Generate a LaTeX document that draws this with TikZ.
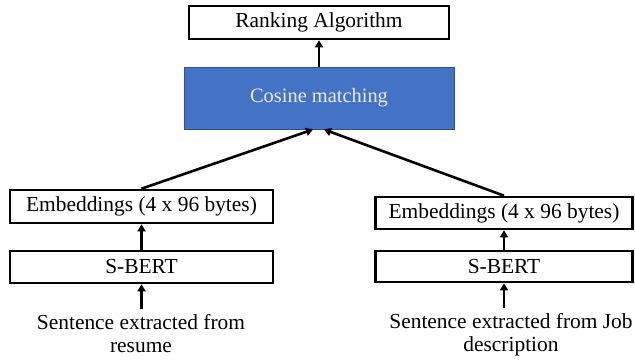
\documentclass[tikz,border=0pt]{standalone}
\usepackage{fontspec}
\setmainfont{Liberation Serif}
\usetikzlibrary{arrows.meta}
\definecolor{cosblue}{HTML}{4472C4}
\definecolor{cosedge}{HTML}{2F528F}
\begin{document}
\begin{tikzpicture}[x=1bp,y=-1bp,
  box/.style={draw=black,line width=2.6bp,fill=white,inner sep=0pt,minimum width=#1,font=\fontsize{21.5}{24}\selectfont},
  box/.default=263bp,
  arr/.style={line width=2.6bp,-{Triangle[length=7bp,width=8bp]}},
  txt/.style={inner sep=0pt,align=center,font=\fontsize{21.5}{23}\selectfont}]
\useasboundingbox (0,0) rectangle (635,360);
\node[box=260bp,minimum height=33bp] (rank) at (319,22.5) {Ranking Algorithm};
\node[draw=cosedge,line width=1bp,fill=cosblue,inner sep=0pt,minimum width=270bp,minimum height=62bp,text=white!92!blue,font=\fontsize{20.5}{24}\selectfont] (cos) at (319,98) {Cosine matching};
\node[box=263bp,minimum height=33bp] (lemb) at (141.5,206.5) {Embeddings (4 x 96 bytes)};
\node[box=263bp,minimum height=32bp] (lsb) at (141.5,267) {S-BERT};
\node[box=257bp,minimum height=32bp] (remb) at (504,213) {Embeddings (4 x 96 bytes)};
\node[box=257bp,minimum height=31bp] (rsb) at (504,266.5) {S-BERT};
\node[txt] (ltxt) at (141,334) {Sentence extracted from\\resume};
\node[txt] (rtxt) at (511,335) {Sentence extracted from Job\\description};
\draw[arr] (cos.north) -- (rank.south);
\draw[arr] (lemb.north) -- ([xshift=-6bp]cos.south);
\draw[arr] (remb.north) -- ([xshift=5bp]cos.south);
\draw[arr] (lsb.north) -- (lemb.south);
\draw[arr] (rsb.north) -- (remb.south);
\draw[arr] ([yshift=6bp]ltxt.north -| lsb.south) -- (lsb.south);
\draw[arr] ([yshift=6bp]rtxt.north -| rsb.south) -- (rsb.south);
\end{tikzpicture}
\end{document}
